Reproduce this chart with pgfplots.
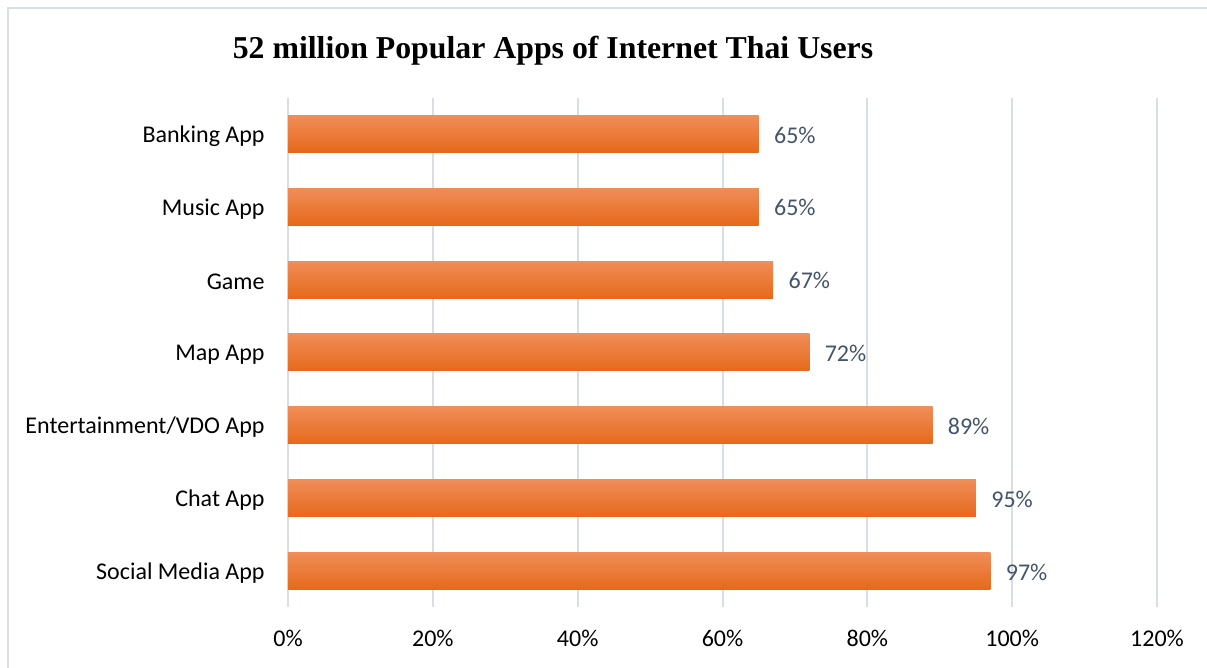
\documentclass[border=0pt]{standalone}
\usepackage{pgfplots}
\pgfplotsset{compat=1.18}
\usepackage{fontspec}
\setmainfont{Carlito}
\newfontfamily\titlefont{Liberation Serif}
\definecolor{gridc}{HTML}{D9DEE5}
\definecolor{lblc}{HTML}{44546A}
\definecolor{bartop}{HTML}{F08D58}
\definecolor{barmid}{HTML}{F27F30}
\definecolor{barbot}{HTML}{E6691A}
\begin{document}
\begin{tikzpicture}[x=0.5pt,y=0.5pt]
\useasboundingbox (0,0) rectangle (1207,668);
\draw[gridc, line width=1pt] (8,0) -- (8,660) -- (1207,660);
\node[font=\titlefont\bfseries\fontsize{15.9}{19}\selectfont, anchor=center] at (553,617) {52 million Popular Apps of Internet Thai Users};
\begin{axis}[
  at={(144pt,30.3pt)}, anchor=south west,
  scale only axis,
  width=434.5pt, height=254.9pt,
  xmin=0, xmax=120, ymin=-0.5, ymax=6.5,
  axis line style={draw=none},
  major tick length=0pt,
  /pgf/number format/assume math mode=true,
  xtick={0,20,40,60,80,100,120},
  xticklabels={0\%,20\%,40\%,60\%,80\%,100\%,120\%},
  ytick={0,1,2,3,4,5,6},
  yticklabels={Social Media App,Chat App,Entertainment/VDO App,Map App,Game,Music App,Banking App},
  xmajorgrids,
  grid style={gridc, line width=1pt},
  tick label style={font=\fontsize{12}{14}\selectfont, text=black},
  x tick label style={anchor=north, inner sep=0pt, yshift=-11pt},
  y tick label style={anchor=east, inner sep=0pt, xshift=-11.5pt, yshift=-1pt},
  xbar, bar width=18.5pt, bar shift=0pt,
  nodes near coords={\pgfmathprintnumber{\pgfplotspointmeta}\%},
  nodes near coords style={font=\fontsize{12}{14}\selectfont, text=lblc, anchor=west, inner sep=0pt, xshift=7.5pt, yshift=-0.5pt},
  every axis plot/.append style={draw=none, top color=bartop, middle color=barmid, bottom color=barbot},
  clip=false,
]
\addplot coordinates {(97,0)};
\addplot coordinates {(95,1)};
\addplot coordinates {(89,2)};
\addplot coordinates {(72,3)};
\addplot coordinates {(67,4)};
\addplot coordinates {(65,5)};
\addplot coordinates {(65,6)};
\end{axis}
\end{tikzpicture}
\end{document}
